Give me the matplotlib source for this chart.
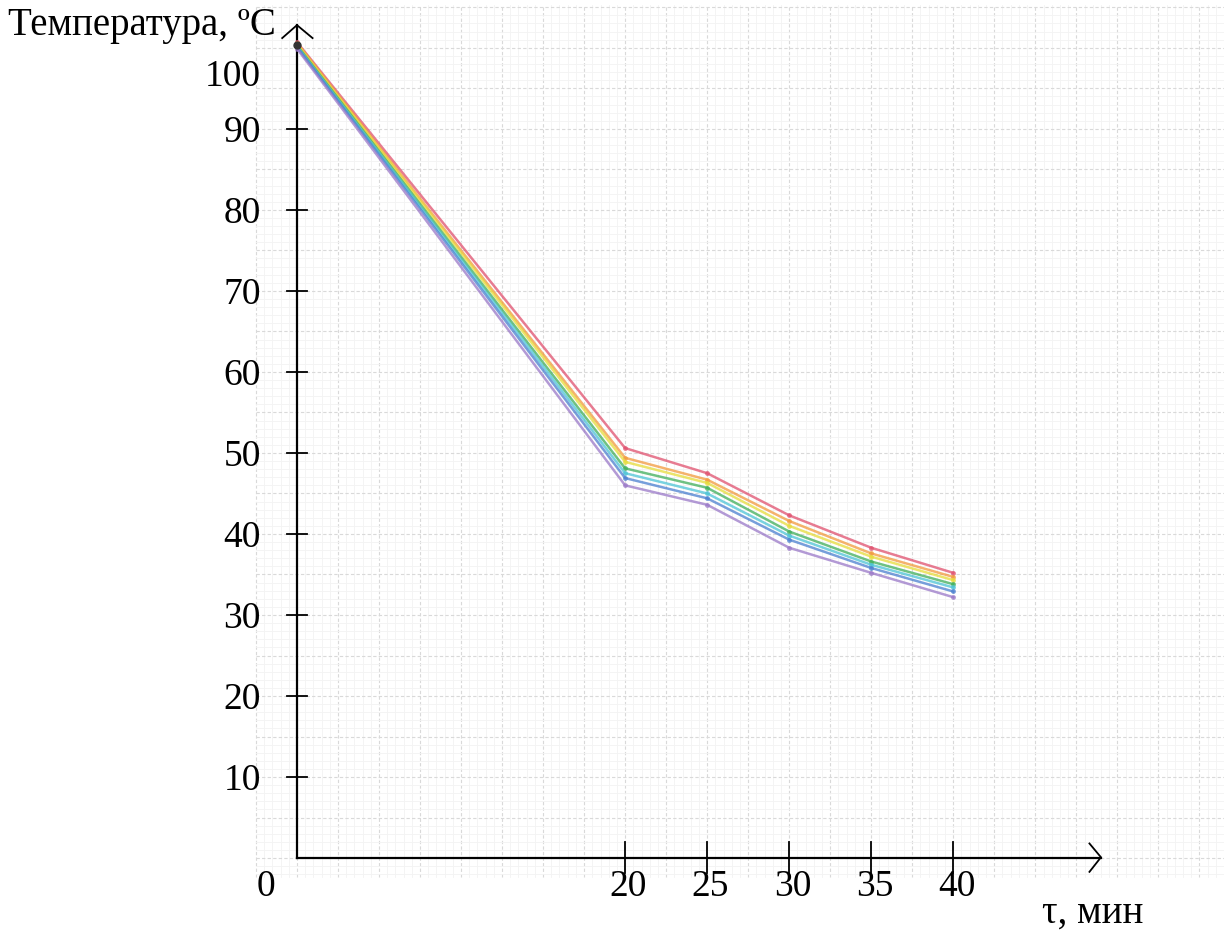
import numpy as np
import matplotlib
matplotlib.use("Agg")
import matplotlib.pyplot as plt

# ---- data ----
time_min = [0, 20, 25, 30, 35, 40]

temp_red    = [100.7, 50.6, 47.5, 42.3, 38.3, 35.2]
temp_orange = [100.6, 49.4, 46.7, 41.6, 37.6, 34.7]
temp_yellow = [100.5, 48.9, 46.3, 41.0, 37.2, 34.3]
temp_green  = [100.3, 48.1, 45.7, 40.3, 36.6, 33.8]
temp_cyan   = [100.2, 47.5, 45.0, 39.8, 36.2, 33.4]
temp_blue   = [100.1, 46.9, 44.4, 39.3, 35.8, 32.9]
temp_violet = [99.9, 46.0, 43.6, 38.3, 35.2, 32.2]

x_ticks = [20, 25, 30, 35, 40]
x_tick_labels = ["20", "25", "30", "35", "40"]
y_ticks = [10, 20, 30, 40, 50, 60, 70, 80, 90]
y_tick_labels = ["10", "20", "30", "40", "50", "60", "70", "80", "90"]

series = [
    (temp_red, "#e0506e"),
    (temp_orange, "#f29a3c"),
    (temp_yellow, "#e6dc3a"),
    (temp_green, "#3fae5a"),
    (temp_cyan, "#4cc4d6"),
    (temp_blue, "#4a7fd0"),
    (temp_violet, "#9a78c8"),
]

SERIF = ["Liberation Serif", "DejaVu Serif"]

fig = plt.figure(figsize=(12.24, 9.31), dpi=100)
ax = fig.add_axes([0, 0, 1, 1])
ax.set_xlim(-18.1, 56.5)
ax.set_ylim(-9.0, 105.9)
ax.axis("off")

# graph paper
for gx in np.arange(-2.5, 56.6, 0.5):
    major = abs(gx / 2.5 - round(gx / 2.5)) < 1e-6
    ax.plot([gx, gx], [-2.3, 105.3], color="#d9d9d9" if major else "#f3f3f3",
            lw=0.8 if major else 0.6, ls=(0, (3, 2)) if major else "-", zorder=0)
for gy in np.arange(-2.0, 106.0, 1.0):
    major = abs(gy / 5 - round(gy / 5)) < 1e-6
    ax.plot([-2.5, 56.5], [gy, gy], color="#d9d9d9" if major else "#f3f3f3",
            lw=0.8 if major else 0.6, ls=(0, (3, 2)) if major else "-", zorder=0)

# axes with hand-drawn arrows
ax.plot([0, 0], [0, 102.8], color="black", lw=1.6, zorder=3)
ax.plot([0, 49.0], [0, 0], color="black", lw=1.6, zorder=3)
ax.plot([-0.9, 0, 0.95], [101.2, 102.8, 101.2], color="black", lw=1.3, zorder=3)
ax.plot([48.3, 49.0, 48.3], [1.8, 0.1, -1.7], color="black", lw=1.3, zorder=3)

for yt, lab in zip(y_ticks, y_tick_labels):
    ax.plot([-0.6, 0.6], [yt, yt], color="black", lw=1.3, zorder=3)
    ax.text(-2.2, yt - 0.5, lab, ha="right", va="center", fontsize=27,
            family=SERIF)
ax.text(-2.2, 96.4, "100", ha="right", va="center", fontsize=27, family=SERIF)

for xt, lab in zip(x_ticks, x_tick_labels):
    ax.plot([xt, xt], [-1.8, 2.0], color="black", lw=1.3, zorder=3)
    ax.text(xt + 0.2, -3.5, lab, ha="center", va="center", fontsize=27,
            family=SERIF)
ax.text(-1.9, -3.5, "0", ha="center", va="center", fontsize=27, family=SERIF)

# colored-pencil curves
for temps, col in series:
    ax.plot(time_min, temps, color=col, lw=1.8, alpha=0.75, zorder=4,
            marker="o", markersize=3.5, markeredgewidth=0)
ax.plot([0], [100.4], "o", color="#333333", markersize=5, zorder=5)

ax.text(-17.6, 101.6, "Температура, ºC", ha="left", va="baseline",
        fontsize=28, family=SERIF)
ax.text(45.4, -8.0, "τ, мин", ha="left", va="baseline", fontsize=28,
        family=SERIF)

fig.savefig("out.png", dpi=100)
